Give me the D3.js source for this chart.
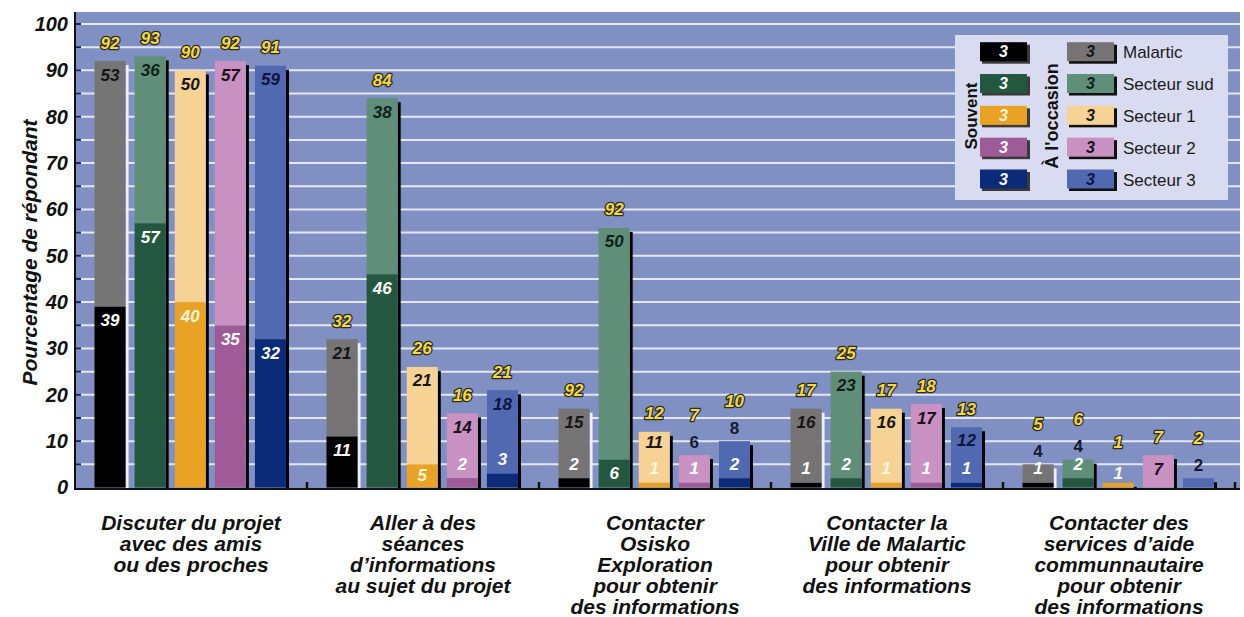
<!DOCTYPE html>
<html>
<head>
<meta charset="utf-8">
<script src="https://cdn.jsdelivr.net/npm/d3@7"></script>
<style>
  html, body { margin: 0; padding: 0; background: #ffffff; }
  svg { display: block; font-family: "Liberation Sans", Arial, sans-serif; }
</style>
</head>
<body>
<svg id="chart" width="1244" height="617"></svg>
<script>
// ---- Data ----
const categories = [
  ["Discuter du projet", "avec des amis", "ou des proches"],
  ["Aller à des", "séances", "d’informations", "au sujet du projet"],
  ["Contacter", "Osisko", "Exploration", "pour obtenir", "des informations"],
  ["Contacter la", "Ville de Malartic", "pour obtenir", "des informations"],
  ["Contacter des", "services d’aide", "communnautaire", "pour obtenir", "des informations"]
];
const series = ["Malartic", "Secteur sud", "Secteur 1", "Secteur 2", "Secteur 3"];
// "Souvent" values (dark segment), per category, per series
const souvent = [
  [39, 57, 40, 35, 32],
  [11, 46, 5, 2, 3],
  [2, 6, 1, 1, 2],
  [1, 2, 1, 1, 1],
  [1, 2, 1, 0, 0]
];
// "À l'occasion" values (light segment)
const occasion = [
  [53, 36, 50, 57, 59],
  [21, 38, 21, 14, 18],
  [15, 50, 11, 6, 8],
  [16, 23, 16, 17, 12],
  [4, 4, 0, 7, 2]
];
// Total labels as printed above the bars
const totalLabels = [
  [92, 93, 90, 92, 91],
  [32, 84, 26, 16, 21],
  [92, 92, 12, 7, 10],
  [17, 25, 17, 18, 13],
  [5, 6, 1, 7, 2]
];
const yTicks = [0, 10, 20, 30, 40, 50, 60, 70, 80, 90, 100];
const yTitle = "Pourcentage de répondant";
const legendSouvent = "Souvent";
const legendOccasion = "À l'occasion";
const swatchText = "3";

// ---- Styles ----
const darkColors = ["#000000", "#24573f", "#e9a224", "#9e5b98", "#0b2a78"];
const lightColors = ["#767474", "#5f8f79", "#f6d294", "#c992c2", "#5069b0"];
const shadowColors = ["#eef0f8", "#000000", "#000000", "#000000", "#000000"];
const souventTextColors = ["#ffffff", "#ffffff", "#fff6dc", "#ffffff", "#ffffff"];
const occTextColors = ["#151515", "#0f1f18", "#151515", "#1a0f1a", "#0c1440"];

const svg = d3.select("#chart");
const plotLeft = 75, plotRight = 1240, plotTop = 12, axisY = 489;

const y = d3.scaleLinear().domain([0, 100]).range([487.5, 24]);
const xg = d3.scaleBand().domain(d3.range(categories.length)).range([75, 1235]).padding(0);
const xs = d3.scaleBand().domain(series).range([19.5, 211]).paddingInner(0.225).paddingOuter(0);

// background
svg.append("rect").attr("x", plotLeft).attr("y", plotTop)
  .attr("width", plotRight - plotLeft).attr("height", axisY - plotTop)
  .attr("fill", "#8190c3");

// grid lines every 5
const gridVals = d3.range(5, 101, 5);
svg.append("g").selectAll("line.grid").data(gridVals).join("line")
  .attr("x1", plotLeft).attr("x2", plotRight)
  .attr("y1", d => y(d)).attr("y2", d => y(d))
  .attr("stroke", "#e3e7f7").attr("stroke-width", 2);
svg.append("g").selectAll("line.tk").data(gridVals).join("line")
  .attr("x1", plotLeft).attr("x2", plotLeft + 6)
  .attr("y1", d => y(d)).attr("y2", d => y(d))
  .attr("stroke", "#1c2350").attr("stroke-width", 2);

// y axis labels via d3 axis
const yAxis = d3.axisLeft(y).tickValues(yTicks).tickSize(0).tickPadding(7);
const ya = svg.append("g").attr("transform", `translate(${plotLeft},0)`).call(yAxis);
ya.select(".domain").remove();
ya.selectAll("text")
  .attr("font-family", "'Liberation Sans', Arial, sans-serif")
  .attr("font-size", 20).attr("font-weight", "bold").attr("font-style", "italic")
  .attr("fill", "#111");

// y title
svg.append("text")
  .attr("transform", `translate(29, ${(plotTop + axisY) / 2 + 2}) rotate(-90)`)
  .attr("text-anchor", "middle").attr("dominant-baseline", "central")
  .attr("font-size", 21).attr("font-weight", "bold").attr("font-style", "italic")
  .attr("fill", "#111").text(yTitle);

// bars
const k = y(0) - y(1);
const gBars = svg.append("g");
categories.forEach((cat, ci) => {
  const gx = xg(ci);
  series.forEach((s, si) => {
    const bx = gx + xs(s);
    const bw = xs.bandwidth();
    const sv = souvent[ci][si], ov = occasion[ci][si];
    const tot = sv + ov;
    const top = y(tot);
    // shadow
    gBars.append("rect").attr("x", bx + bw).attr("y", top + 4)
      .attr("width", 3).attr("height", y(0) - top - 4 + 1)
      .attr("fill", shadowColors[si]);
    // light (occasion) segment
    if (ov > 0) {
      gBars.append("rect").attr("x", bx).attr("y", y(tot))
        .attr("width", bw).attr("height", y(sv) - y(tot)).attr("fill", lightColors[si]);
    }
    if (sv > 0) {
      gBars.append("rect").attr("x", bx).attr("y", y(sv))
        .attr("width", bw).attr("height", y(0) - y(sv)).attr("fill", darkColors[si]);
    }
    const cx = bx + bw / 2;
    let aboveCount = 0;
    // souvent label
    let souventAbove = false;
    if (sv > 0) {
      let cy;
      if (sv >= 5) {
        const h = y(0) - y(sv);
        cy = y(sv) + Math.min(14, h / 2);
      } else {
        souventAbove = true;
        cy = y(sv) - 14;
        if (ov === 0) { aboveCount += 1; cy = y(sv) - 9; }
      }
      gBars.append("text").attr("x", cx).attr("y", cy)
        .attr("text-anchor", "middle").attr("dominant-baseline", "central")
        .attr("font-size", 17).attr("font-weight", "bold").attr("font-style", "italic")
        .attr("fill", souventTextColors[si]).text(sv);
    }
    // occasion label
    if (ov > 0) {
      const room = ov * k - (souventAbove ? 30 : 0);
      if (room >= 20) {
        gBars.append("text").attr("x", cx).attr("y", top + Math.min(14, room / 2))
          .attr("text-anchor", "middle").attr("dominant-baseline", "central")
          .attr("font-size", 17).attr("font-weight", "bold").attr("font-style", "italic")
          .attr("fill", occTextColors[si]).text(ov);
      } else {
        aboveCount += 1;
        gBars.append("text").attr("x", cx).attr("y", top - 13)
          .attr("text-anchor", "middle").attr("dominant-baseline", "central")
          .attr("font-size", 17).attr("font-weight", "bold")
          .attr("fill", "#141a30").text(ov);
      }
    }
    // total label
    const tcy = top - 18 - aboveCount * 22;
    gBars.append("text").attr("x", cx).attr("y", tcy)
      .attr("text-anchor", "middle").attr("dominant-baseline", "central")
      .attr("font-size", 17).attr("font-weight", "bold").attr("font-style", "italic")
      .attr("fill", "#f7da38").attr("stroke", "#2b2b2b").attr("stroke-width", 2.6)
      .attr("paint-order", "stroke").attr("stroke-linejoin", "round")
      .text(totalLabels[ci][si]);
  });
});

// axes lines
svg.append("line").attr("x1", plotLeft).attr("x2", plotLeft)
  .attr("y1", plotTop).attr("y2", axisY + 1).attr("stroke", "#111").attr("stroke-width", 2);
svg.append("line").attr("x1", plotLeft - 1).attr("x2", plotRight)
  .attr("y1", axisY).attr("y2", axisY).attr("stroke", "#111").attr("stroke-width", 2);
// separator ticks
svg.append("g").selectAll("line").data(d3.range(1, categories.length + 1)).join("line")
  .attr("x1", d => xg(d - 1) + xg.bandwidth()).attr("x2", d => xg(d - 1) + xg.bandwidth())
  .attr("y1", axisY).attr("y2", axisY - 7).attr("stroke", "#111").attr("stroke-width", 2.5);

// category labels
categories.forEach((lines, ci) => {
  const t = svg.append("text").attr("x", xg(ci) + xg.bandwidth() / 2).attr("y", 530)
    .attr("text-anchor", "middle")
    .attr("font-size", 21).attr("font-weight", "bold").attr("font-style", "italic")
    .attr("fill", "#111");
  lines.forEach((ln, li) => {
    t.append("tspan").attr("x", xg(ci) + xg.bandwidth() / 2).attr("y", 530 + li * 21).text(ln);
  });
});

// legend
const lg = svg.append("g");
lg.append("rect").attr("x", 955).attr("y", 35).attr("width", 273).attr("height", 165)
  .attr("fill", "#d9dcf0");
const rowY = d3.scaleLinear().domain([0, 4]).range([51.7, 179]);
series.forEach((s, si) => {
  const cy = rowY(si);
  // souvent swatch
  lg.append("rect").attr("x", 982).attr("y", cy - 7).attr("width", 48).attr("height", 19).attr("fill", "#3a3a3a");
  lg.append("rect").attr("x", 980).attr("y", cy - 9.5).attr("width", 47).attr("height", 19).attr("fill", darkColors[si]);
  lg.append("text").attr("x", 1003.5).attr("y", cy).attr("text-anchor", "middle").attr("dominant-baseline", "central")
    .attr("font-size", 16).attr("font-weight", "bold").attr("font-style", "italic")
    .attr("fill", souventTextColors[si]).text(swatchText);
  // occasion swatch
  lg.append("rect").attr("x", 1069).attr("y", cy - 7).attr("width", 48).attr("height", 19).attr("fill", "#111");
  lg.append("rect").attr("x", 1067).attr("y", cy - 9.5).attr("width", 47).attr("height", 19).attr("fill", lightColors[si]);
  lg.append("text").attr("x", 1090.5).attr("y", cy).attr("text-anchor", "middle").attr("dominant-baseline", "central")
    .attr("font-size", 16).attr("font-weight", "bold").attr("font-style", "italic")
    .attr("fill", occTextColors[si]).text(swatchText);
  lg.append("text").attr("x", 1123).attr("y", cy + 1).attr("dominant-baseline", "central")
    .attr("font-size", 17).attr("fill", "#1a1a1a").text(s);
});
lg.append("text").attr("transform", "translate(971,116) rotate(-90)")
  .attr("text-anchor", "middle").attr("dominant-baseline", "central")
  .attr("font-size", 17).attr("font-weight", "bold").attr("fill", "#111").text(legendSouvent);
lg.append("text").attr("transform", "translate(1052,116) rotate(-90)")
  .attr("text-anchor", "middle").attr("dominant-baseline", "central")
  .attr("font-size", 18).attr("font-weight", "bold").attr("fill", "#111").text(legendOccasion);
</script>
</body>
</html>
